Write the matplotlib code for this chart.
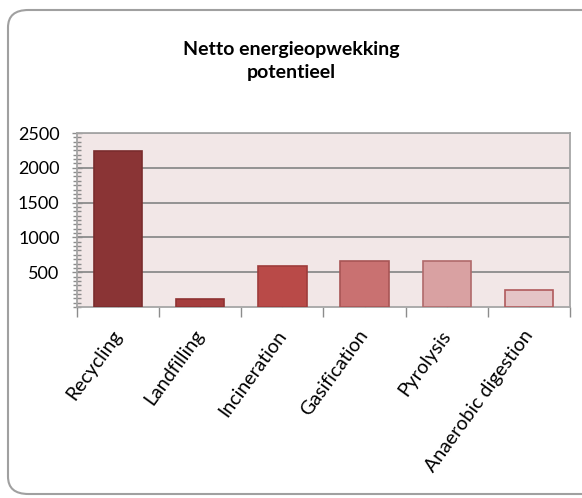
import numpy as np
import matplotlib.pyplot as plt
from matplotlib.patches import FancyBboxPatch
from matplotlib.ticker import MultipleLocator

plt.rcParams["font.family"] = ["Lato", "DejaVu Sans"]

categories = ["Recycling", "Landfilling", "Incineration", "Gasification",
              "Pyrolysis", "Anaerobic digestion"]
values = [2240, 110, 595, 655, 655, 245]
bar_colors = ["#8a3435", "#a53d3d", "#b94a48", "#c97171", "#d9a1a2", "#e4c4c6"]
edge_colors = ["#7a2c2d", "#8f3232", "#9e3c3b", "#a85555", "#b06a6b", "#b05a5c"]

W, H = 582, 498
fig = plt.figure(figsize=(W / 100, H / 100), dpi=100)

# rounded chart frame, runs off the right edge like the original
frame = FancyBboxPatch((8 / W, 4 / H), 600 / W, 484 / H,
                       boxstyle="round,pad=0,rounding_size=0.035",
                       transform=fig.transFigure, facecolor="white",
                       edgecolor="#a0a0a0", linewidth=1.5, zorder=-5)
fig.patches.append(frame)

ax = fig.add_axes([77 / W, 1 - 307 / H, (570 - 77) / W, (307 - 133) / H])
ax.set_zorder(2)
ax.set_facecolor("#f2e7e7")

x = np.arange(len(categories))
ax.bar(x, values, width=0.59, color=bar_colors, edgecolor=edge_colors,
       linewidth=1.2, zorder=3)

ax.set_xlim(-0.5, len(categories) - 0.5)
ax.set_ylim(0, 2500)
ax.set_yticks([500, 1000, 1500, 2000, 2500])
ax.yaxis.set_minor_locator(MultipleLocator(62.5))
ax.grid(axis="y", color="#8c8c8c", linewidth=1.3, zorder=1)

ax.tick_params(axis="y", which="both", direction="inout", color="#8c8c8c",
               labelsize=13, length=7, width=1, pad=9)
ax.tick_params(axis="y", which="minor", length=6)

# category labels at the centres, ticks at the category boundaries
ax.set_xticks(x)
ax.set_xticklabels(categories, rotation=54, ha="right", va="center",
                   rotation_mode="anchor", fontsize=14)
ax.set_xticks(np.arange(len(categories) + 1) - 0.5, minor=True)
ax.tick_params(axis="x", which="major", direction="in", length=6,
               color="#8c8c8c", width=1, pad=18)
ax.tick_params(axis="x", which="minor", direction="out", length=7,
               color="#8c8c8c", width=1)

for s in ax.spines.values():
    s.set_color("#a6a6a6")
    s.set_linewidth(1.3)

fig.text(0.5, 1 - 61 / H, "Netto energieopwekking\npotentieel", ha="center",
         va="center", fontsize=14, fontweight="bold", linespacing=1.4)

fig.savefig("out.png", dpi=100)
